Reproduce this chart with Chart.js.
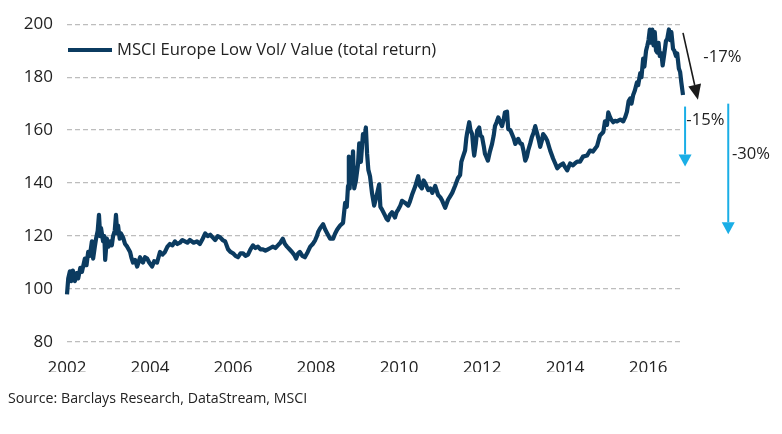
<!DOCTYPE html>
<html>
<head>
<meta charset="utf-8">
<script src="https://cdn.jsdelivr.net/npm/chart.js@4.4.1/dist/chart.umd.min.js"></script>
<style>
  body { margin: 0; background: #fff; }
  #wrap { position: relative; width: 782px; height: 434px; }
  #source {
    position: absolute; left: 8px; top: 388px;
    font-family: "Open Sans", sans-serif; font-size: 14.2px; color: #222;
  }
</style>
</head>
<body>
<div id="wrap">
  <canvas id="chart" width="782" height="434"></canvas>
  <div id="source">Source: Barclays Research, DataStream, MSCI</div>
</div>
<script>
// time in decimal years
const years = [
  2002.00, 2002.03, 2002.07, 2002.10, 2002.14, 2002.19, 2002.23, 2002.27, 2002.32, 2002.36,
  2002.43, 2002.47, 2002.51, 2002.55, 2002.60, 2002.63, 2002.67, 2002.70, 2002.74, 2002.77,
  2002.80, 2002.82, 2002.87, 2002.90, 2002.92, 2002.96, 2003.00, 2003.04, 2003.08, 2003.11,
  2003.15, 2003.18, 2003.21, 2003.23, 2003.27, 2003.30, 2003.35, 2003.40, 2003.45, 2003.52,
  2003.55, 2003.59, 2003.64, 2003.69, 2003.76, 2003.80, 2003.83, 2003.88, 2003.93, 2003.98,
  2004.05, 2004.10, 2004.17, 2004.24, 2004.30, 2004.36, 2004.42, 2004.48, 2004.54, 2004.60,
  2004.66, 2004.72, 2004.78, 2004.84, 2004.90, 2004.96, 2005.05, 2005.13, 2005.20, 2005.27,
  2005.33, 2005.39, 2005.45, 2005.51, 2005.57, 2005.63, 2005.69, 2005.75, 2005.81, 2005.88,
  2005.94, 2006.00, 2006.06, 2006.12, 2006.18, 2006.24, 2006.30, 2006.36, 2006.42, 2006.48,
  2006.54, 2006.60, 2006.66, 2006.72, 2006.78, 2006.84, 2006.90, 2006.96, 2007.02, 2007.08,
  2007.14, 2007.20, 2007.25, 2007.30, 2007.36, 2007.42, 2007.47, 2007.52, 2007.57, 2007.61,
  2007.67, 2007.73, 2007.80, 2007.86, 2007.92, 2007.98, 2008.02, 2008.05, 2008.10, 2008.17,
  2008.22, 2008.27, 2008.34, 2008.41, 2008.46, 2008.51, 2008.58, 2008.65, 2008.70, 2008.74,
  2008.77, 2008.79, 2008.81, 2008.84, 2008.86, 2008.89, 2008.92, 2008.96, 2009.01, 2009.04,
  2009.08, 2009.13, 2009.16, 2009.20, 2009.23, 2009.26, 2009.30, 2009.35, 2009.40, 2009.44,
  2009.47, 2009.52, 2009.55, 2009.59, 2009.66, 2009.70, 2009.73, 2009.78, 2009.83, 2009.90,
  2009.94, 2009.98, 2010.03, 2010.07, 2010.14, 2010.22, 2010.26, 2010.31, 2010.39, 2010.46,
  2010.50, 2010.55, 2010.59, 2010.63, 2010.70, 2010.75, 2010.80, 2010.87, 2010.94, 2011.00,
  2011.04, 2011.11, 2011.18, 2011.23, 2011.28, 2011.35, 2011.42, 2011.47, 2011.50, 2011.54,
  2011.59, 2011.62, 2011.64, 2011.69, 2011.72, 2011.76, 2011.79, 2011.81, 2011.85, 2011.88,
  2011.93, 2011.96, 2012.00, 2012.04, 2012.07, 2012.10, 2012.14, 2012.19, 2012.24, 2012.28,
  2012.31, 2012.35, 2012.39, 2012.43, 2012.48, 2012.52, 2012.55, 2012.60, 2012.63, 2012.68,
  2012.72, 2012.76, 2012.80, 2012.87, 2012.92, 2012.96, 2013.00, 2013.04, 2013.08, 2013.11,
  2013.16, 2013.20, 2013.24, 2013.28, 2013.33, 2013.37, 2013.40, 2013.44, 2013.47, 2013.52,
  2013.57, 2013.64, 2013.71, 2013.76, 2013.81, 2013.88, 2013.95, 2014.00, 2014.05, 2014.12,
  2014.19, 2014.24, 2014.29, 2014.36, 2014.43, 2014.53, 2014.60, 2014.67, 2014.72, 2014.77,
  2014.84, 2014.92, 2014.96, 2015.01, 2015.04, 2015.08, 2015.11, 2015.16, 2015.20, 2015.25,
  2015.33, 2015.40, 2015.45, 2015.49, 2015.53, 2015.57, 2015.60, 2015.64, 2015.68, 2015.73,
  2015.76, 2015.81, 2015.84, 2015.88, 2015.91, 2015.95, 2015.98, 2016.01, 2016.04, 2016.07,
  2016.10, 2016.13, 2016.16, 2016.19, 2016.22, 2016.25, 2016.28, 2016.32, 2016.35, 2016.39,
  2016.43, 2016.46, 2016.50, 2016.53, 2016.56, 2016.60, 2016.63, 2016.67, 2016.70, 2016.74,
  2016.77, 2016.80, 2016.84, 2016.89, 2016.92
];

// MSCI Europe Low Vol/ Value, total return index
const values = [
  98, 104, 106.7, 103, 107, 103, 106, 104, 108, 106.5,
  111.5, 109, 114, 112.5, 118, 111.5, 116, 119, 122, 128,
  120, 123, 118, 120, 111, 119, 116, 118, 116.5, 120,
  122, 128, 121, 124, 119, 121, 119.5, 117, 116, 114,
  112, 110, 111, 108.5, 112, 110.5, 110, 112, 111.5, 110,
  108.5, 110.5, 110, 114, 113, 114, 116, 117, 116.5, 118,
  117, 117.5, 118.5, 118, 117.5, 118.5, 117.5, 118, 117, 119,
  121, 120, 120.5, 119.5, 118.5, 120, 119.5, 118.5, 118, 115,
  114, 113.5, 112.5, 112, 113.5, 113.5, 112.5, 113, 115, 116.5,
  115.5, 116, 115, 115, 114.5, 115, 115.5, 116, 115.5, 116.5,
  117.5, 119, 117, 116, 115, 114, 113, 111.5, 113.5, 114,
  112.5, 112, 114, 116, 117, 118.5, 120, 121.5, 123, 124.5,
  122.5, 121, 119, 119, 121, 122.5, 124, 125, 132.5, 131,
  139, 150, 138, 149, 140, 152, 138, 141, 147, 155,
  148, 158.5, 156, 161, 151, 145, 142.6, 136, 131.5, 134,
  136, 139.5, 131, 130, 127.8, 126.5, 126, 128, 129, 127,
  129, 130, 131.5, 133.3, 132.6, 131.5, 133, 135.5, 138.8, 142.6,
  139, 138, 141, 140, 137.4, 138, 136.3, 138.9, 135.5, 134.5,
  133.3, 130.7, 133.7, 135, 136.3, 139, 141.9, 143, 148, 150,
  152.3, 157, 159, 163, 160, 158.5, 153, 150.4, 155, 159.7,
  161, 158, 157.4, 154, 151, 150, 148.5, 152, 154.8, 158,
  161.5, 163, 164.8, 163.3, 161.5, 164, 166.7, 167, 160.4, 160,
  158.5, 157, 154.8, 156.7, 155, 154.8, 152, 148.5, 150, 152.3,
  155, 157.4, 159, 161.5, 158.5, 156, 153.7, 156, 158.5, 157.5,
  156, 152.3, 149.3, 147.5, 145.6, 146.7, 147.4, 146, 144.8, 147.4,
  146.7, 147.5, 148.1, 148.1, 150, 150.4, 152.3, 151.9, 153, 154,
  158, 159.3, 163.3, 162, 166.7, 165, 164, 163, 163.5, 163.3,
  164, 163.3, 165, 167, 171, 172, 170, 173.3, 175, 178,
  177, 181.5, 180, 187, 184, 190, 191.9, 194, 198, 193,
  198, 192, 197, 190, 189.3, 193, 188, 189, 184.4, 188.9,
  193.7, 194.4, 198, 194, 197, 190.7, 190, 188, 189, 183.3,
  182, 178, 173.3, 170.4, 169.6
];

const tickYears = [2002, 2004, 2006, 2008, 2010, 2012, 2014, 2016];
const seriesLabel = "MSCI Europe Low Vol/ Value (total return)";

// drawdown annotations: [x0, y0, x1, y1] in data units, plus label anchor
const arrowBlack = [2016.84, 196.7, 2017.20, 171.5];
const arrowBlue15 = [2016.89, 168.9, 2016.89, 146.3];
const arrowBlue30 = [2017.93, 170.0, 2017.93, 120.7];
const arrowLabels = [
  { text: "-17%", x: 2017.33, y: 187.4 },
  { text: "-15%", x: 2016.92, y: 163.7 },
  { text: "-30%", x: 2018.02, y: 150.7 },
];

const FONT = '"Open Sans", sans-serif';
const NAVY = "#0b3b60";
const BLUE = "#1aaee6";

function drawArrow(ctx, x0, y0, x1, y1, color, width, headLen, headW) {
  const ang = Math.atan2(y1 - y0, x1 - x0);
  const bx = x1 - headLen * Math.cos(ang);
  const by = y1 - headLen * Math.sin(ang);
  ctx.save();
  ctx.strokeStyle = color;
  ctx.fillStyle = color;
  ctx.lineWidth = width;
  ctx.beginPath();
  ctx.moveTo(x0, y0);
  ctx.lineTo(bx, by);
  ctx.stroke();
  ctx.beginPath();
  ctx.moveTo(x1, y1);
  ctx.lineTo(bx + headW / 2 * Math.sin(ang), by - headW / 2 * Math.cos(ang));
  ctx.lineTo(bx - headW / 2 * Math.sin(ang), by + headW / 2 * Math.cos(ang));
  ctx.closePath();
  ctx.fill();
  ctx.restore();
}

const annotations = {
  id: "annotations",
  afterDatasetsDraw(chart) {
    const { ctx, scales: { x, y } } = chart;
    const px = (a) => [x.getPixelForValue(a[0]), y.getPixelForValue(a[1]),
                       x.getPixelForValue(a[2]), y.getPixelForValue(a[3])];

    // legend inside the plot
    const lx = x.left + 1, ly = y.getPixelForValue(190.3);
    ctx.save();
    ctx.strokeStyle = NAVY;
    ctx.lineWidth = 4;
    ctx.beginPath();
    ctx.moveTo(lx, ly);
    ctx.lineTo(lx + 44, ly);
    ctx.stroke();
    ctx.fillStyle = "#222";
    ctx.font = "16.6px " + FONT;
    ctx.textBaseline = "middle";
    ctx.fillText(seriesLabel, lx + 49, ly);
    ctx.restore();

    drawArrow(ctx, ...px(arrowBlack), "#1a1a1a", 1.6, 15, 13);
    drawArrow(ctx, ...px(arrowBlue15), BLUE, 2, 12, 13);
    drawArrow(ctx, ...px(arrowBlue30), BLUE, 2, 12, 13);

    ctx.save();
    ctx.fillStyle = "#222";
    ctx.font = "16.6px " + FONT;
    ctx.textBaseline = "middle";
    arrowLabels.forEach((l) => {
      ctx.fillText(l.text, x.getPixelForValue(l.x), y.getPixelForValue(l.y));
    });
    ctx.restore();
  },
};

new Chart(document.getElementById("chart"), {
  type: "line",
  data: {
    datasets: [
      {
        label: seriesLabel,
        data: years.map((yr, i) => ({ x: yr, y: values[i] })),
        borderColor: NAVY,
        borderWidth: 4.2,
        borderJoinStyle: "round",
        pointRadius: 0,
        tension: 0,
        clip: false,
      },
    ],
  },
  options: {
    responsive: false,
    animation: false,
    layout: { padding: { top: 18, right: 99, bottom: 62, left: 0 } },
    scales: {
      x: {
        type: "linear",
        min: 2002,
        max: 2016.84,
        afterBuildTicks: (s) => { s.ticks = tickYears.map((v) => ({ value: v })); },
        afterFit: (s) => { s.height = 30; },
        grid: { display: false, drawTicks: false },
        border: { display: false },
        ticks: {
          autoSkip: false,
          maxRotation: 0,
          padding: 16,
          color: "#222",
          font: { family: FONT, size: 17 },
          callback: (v) => String(v),
        },
      },
      y: {
        min: 80,
        max: 200,
        afterFit: (s) => { s.width = 67; },
        grid: {
          color: "#bdbdbd",
          lineWidth: 1.3,
          drawTicks: false,
        },
        border: { display: false, dash: [5, 3] },
        ticks: {
          stepSize: 20,
          padding: 14,
          color: "#222",
          font: { family: FONT, size: 17 },
        },
      },
    },
    plugins: {
      legend: { display: false },
      tooltip: { enabled: false },
    },
  },
  plugins: [annotations],
});
</script>
</body>
</html>
